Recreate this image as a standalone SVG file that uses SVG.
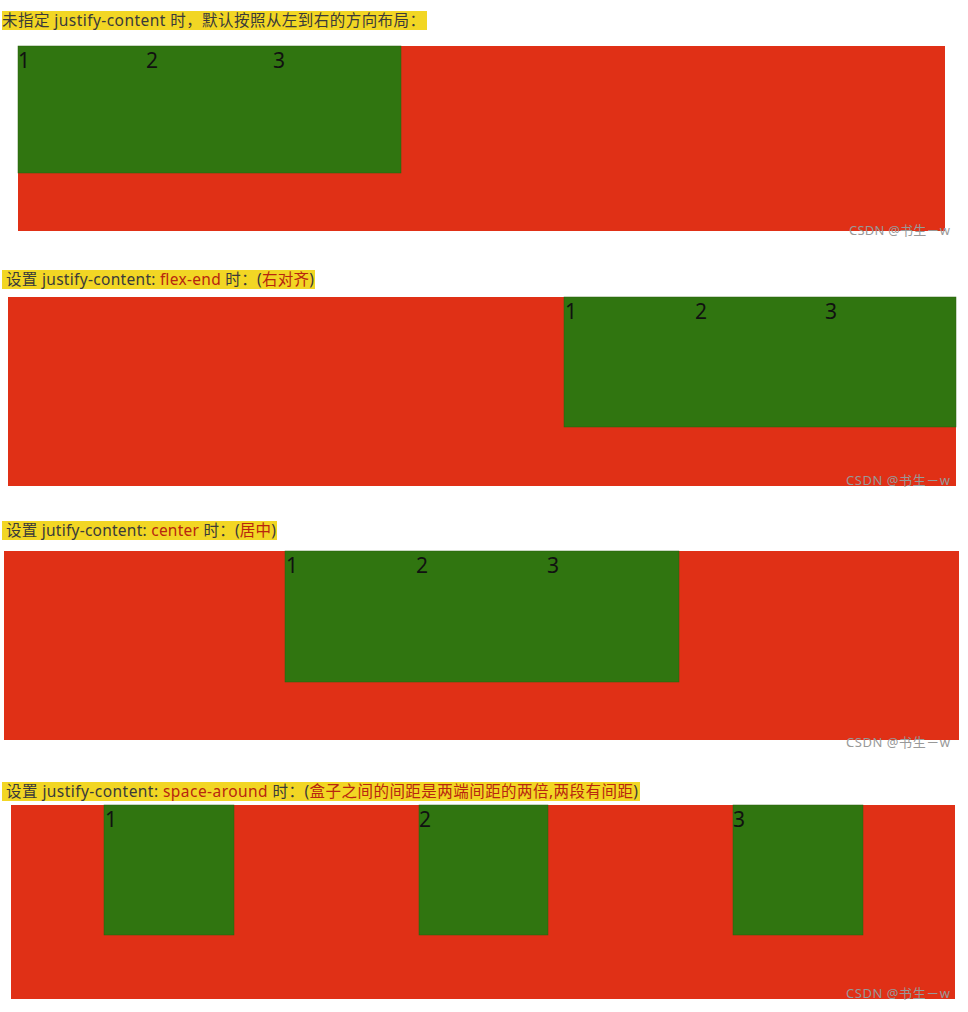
<svg xmlns="http://www.w3.org/2000/svg" width="968" height="1012" viewBox="0 0 968 1012">
<style>
.bg{fill:#ffffff}
.hl{fill:#f2d624}
.lbl{font-family:"Noto Sans","Noto Sans CJK SC",sans-serif;font-size:15.5px;fill:#3a3a3a}
.em{fill:#b8260f}
.box{fill:#e03016}
.item{fill:#307510;stroke:#2a5f0c;stroke-width:0.5}
.num{font-family:"Noto Sans","Noto Sans CJK SC",sans-serif;font-size:21px;fill:#111111}
.wm{font-family:"Noto Sans","Noto Sans CJK SC",sans-serif;font-size:13px;fill:#999999}
</style>
<rect class="bg" x="0" y="0" width="968" height="1012"/>

<g id="panel1">
<rect class="hl" x="2" y="11" width="425" height="19"/>
<text class="lbl" x="2" y="26" textLength="423">未指定 justify-content 时，默认按照从左到右的方向布局：</text>
<rect class="box" x="18" y="46" width="927" height="185"/>
<rect class="item" x="18" y="46" width="383" height="127"/>
<text class="num" x="18" y="68">1</text>
<text class="num" x="146" y="68">2</text>
<text class="num" x="273" y="68">3</text>
<text class="wm" x="849" y="235" textLength="101">CSDN @书生－w</text>
</g>

<g id="panel2">
<rect class="hl" x="2" y="270" width="313" height="19"/>
<text class="lbl" x="6" y="285" textLength="308"><tspan>设置 justify-content: </tspan><tspan class="em">flex-end</tspan><tspan> 时：(</tspan><tspan class="em">右对齐</tspan><tspan>)</tspan></text>
<rect class="box" x="8" y="297" width="948" height="189"/>
<rect class="item" x="564" y="297" width="392" height="130"/>
<text class="num" x="565" y="319">1</text>
<text class="num" x="695" y="319">2</text>
<text class="num" x="825" y="319">3</text>
<text class="wm" x="846" y="485" textLength="104">CSDN @书生－w</text>
</g>

<g id="panel3">
<rect class="hl" x="2" y="521" width="275" height="19"/>
<text class="lbl" x="6" y="536" textLength="270"><tspan>设置 jutify-content: </tspan><tspan class="em">center</tspan><tspan> 时：(</tspan><tspan class="em">居中</tspan><tspan>)</tspan></text>
<rect class="box" x="4" y="551" width="955" height="189"/>
<rect class="item" x="285" y="551" width="394" height="131"/>
<text class="num" x="286" y="573">1</text>
<text class="num" x="416" y="573">2</text>
<text class="num" x="547" y="573">3</text>
<text class="wm" x="846" y="747" textLength="104">CSDN @书生－w</text>
</g>

<g id="panel4">
<rect class="hl" x="2" y="782" width="638" height="19"/>
<text class="lbl" x="6" y="797" textLength="632"><tspan>设置 justify-content: </tspan><tspan class="em">space-around</tspan><tspan> 时：(</tspan><tspan class="em">盒子之间的间距是两端间距的两倍,两段有间距</tspan><tspan>)</tspan></text>
<rect class="box" x="11" y="805" width="944" height="194"/>
<rect class="item" x="104" y="805" width="130" height="130"/>
<rect class="item" x="419" y="805" width="129" height="130"/>
<rect class="item" x="733" y="805" width="130" height="130"/>
<text class="num" x="105" y="827">1</text>
<text class="num" x="419" y="827">2</text>
<text class="num" x="733" y="827">3</text>
<text class="wm" x="846" y="998" textLength="104">CSDN @书生－w</text>
</g>
</svg>
